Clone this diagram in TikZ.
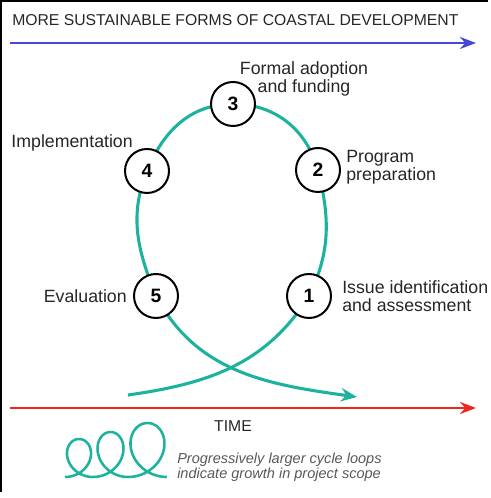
\documentclass[tikz,border=0pt]{standalone}
\usepackage{fontspec}
\setmainfont{Liberation Sans}
\usetikzlibrary{arrows.meta,backgrounds}

\definecolor{loopteal}{RGB}{28,178,158}
\definecolor{goalblue}{RGB}{72,72,214}
\definecolor{timered}{RGB}{242,38,26}
\definecolor{inkgray}{RGB}{38,38,38}
\definecolor{notegray}{RGB}{88,88,88}

\tikzset{
  stage/.style={circle, draw=black, line width=1.5pt, fill=white,
    minimum size=33pt, inner sep=0pt, font=\fontsize{14.5}{14.5}\selectfont\bfseries},
  stagetext/.style={inner sep=0pt, text=inkgray, font=\fontsize{13.3}{13.5}\selectfont},
  headtext/.style={inner sep=0pt, text=inkgray, font=\fontsize{11.8}{13}\selectfont},
  notetext/.style={inner sep=0pt, text=notegray, font=\fontsize{10.9}{11.3}\selectfont\itshape},
  cycleline/.style={draw=loopteal, line width=2.3pt},
  axisline/.style={line width=2.2pt, -{Stealth[length=12pt,width=9pt]}}
}

\begin{document}
\begin{tikzpicture}[x=0.75pt,y=0.75pt]
  \useasboundingbox (0,0) rectangle (490,498);

  % frame, top and left only
  \draw[line width=2.2pt] (1,6) -- (1,497) -- (488,497);

  % direction of development
  \node[headtext, anchor=west] (goal) at (12,478) {MORE SUSTAINABLE FORMS OF COASTAL DEVELOPMENT};
  \coordinate (goalstart) at (10,455);
  \coordinate (goalend) at (476,455);
  \draw[axisline, goalblue] (goalstart) -- (goalend);

  % time axis
  \coordinate (timestart) at (10,90);
  \coordinate (timeend) at (476,90);
  \draw[axisline, timered] (timestart) -- (timeend);
  \node[headtext] (time) at (233,72) {TIME};

  % the five stages
  \node[stage] (n1) at (309,202) {1};
  \node[stage] (n2) at (318,328) {2};
  \node[stage] (n3) at (233,394) {3};
  \node[stage] (n4) at (147,327) {4};
  \node[stage] (n5) at (156,202) {5};

  \coordinate (loopstart) at (128,103);
  \coordinate (loopend) at (357,101);

  % cycle loop, runs behind the stage circles
  \begin{pgfonlayer}{background}
    \draw[cycleline] (loopstart) to[out=8,in=238] (n1.center)
      to[out=64,in=-76] (n2.center)
      to[out=106,in=0] (n3.center)
      to[out=180,in=68] (n4.center)
      to[out=248,in=112] (n5.center);
    \draw[cycleline, -{Stealth[length=12pt,width=10pt]}] (n5.center) to[out=-62,in=172] (loopend);
  \end{pgfonlayer}

  \node[stagetext, align=left, anchor=west] (issue) at (342,201.5) {Issue identification\\and assessment};
  \node[stagetext, align=left, anchor=west] (prep) at (346,331) {Program\\preparation};
  \node[stagetext, align=center] (adopt) at (304,419) {Formal adoption\\and funding};
  \node[stagetext, anchor=east] (impl) at (133,355) {Implementation};
  \node[stagetext, anchor=east] (eval) at (127,202) {Evaluation};

  % growing loops
  \draw[cycleline, line width=1.9pt, line join=round]
    plot[domain=0:360, samples=72, variable=\t] ({65+4.46*rad(\t)+18.5*sin(\t)}, {21+19*(1-cos(\t))})
    -- plot[domain=0:360, samples=72, variable=\t] ({93+5.57*rad(\t)+21*sin(\t)}, {21+22.5*(1-cos(\t))})
    -- plot[domain=0:360, samples=72, variable=\t] ({128+6.2*rad(\t)+26*sin(\t)}, {21+27*(1-cos(\t))});
  \node[notetext, align=left, anchor=west] (note) at (177,30.5) {Progressively larger cycle loops\\indicate growth in project scope};
\end{tikzpicture}
\end{document}
